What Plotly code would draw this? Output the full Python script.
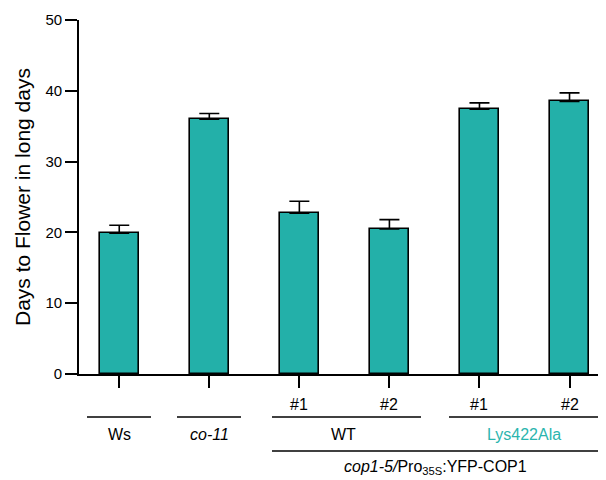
import plotly.graph_objects as go

# Data
categories = ["Ws", "co-11", "WT #1", "WT #2", "Lys422Ala #1", "Lys422Ala #2"]
days = [19.9, 36.0, 22.7, 20.5, 37.4, 38.5]
err = [1.1, 0.8, 1.7, 1.3, 0.9, 1.2]
y_ticks = [0, 10, 20, 30, 40, 50]

BAR = "#23B0A9"
TEAL_TXT = "#2BB5AE"
FONT = "Liberation Sans, Arial, sans-serif"

# page body has an 8px default margin; figure is sized to fill the rest
OFF = 8
W, H = 606 - OFF, 480 - OFF
PLOT_L, PLOT_R, PLOT_T, PLOT_B = 79, 605, 20, 374   # reference page pixels
ML, MT = PLOT_L - OFF, PLOT_T - OFF
MR = 606 - PLOT_R
MB = H - (PLOT_B - OFF)
PW, PH = PLOT_R - PLOT_L, PLOT_B - PLOT_T
XMIN, XMAX = -0.447, 5.394

xpos = list(range(len(categories)))

fig = go.Figure()
fig.add_trace(go.Bar(
    x=xpos, y=days, width=0.43,
    marker=dict(color=BAR, line=dict(color="black", width=1.6)),
    error_y=dict(type="data", array=err, arrayminus=[0] * len(err), symmetric=False,
                 color="black", thickness=1.6, width=10),
    showlegend=False,
))

def py(ypx):
    return (PLOT_B - ypx) / PH

def pxp(xpx):
    return (xpx - PLOT_L) / PW

def px2cat(xpx):
    return XMIN + pxp(xpx) * (XMAX - XMIN)

shapes = []
def hline(x0px, x1px, ypx):
    shapes.append(dict(type="line", xref="paper", yref="paper",
                       x0=pxp(x0px), x1=pxp(x1px), y0=py(ypx), y1=py(ypx),
                       line=dict(color="black", width=1.6)))

# group underline brackets
hline(87, 151, 417)
hline(177, 241, 417)
hline(272, 421, 417)
hline(449, 606, 417)
hline(272, 606, 451)

ann = []
def label(xcat, ypx, text, color="black", size=16):
    ann.append(dict(x=xcat, y=py(ypx), xref="x", yref="paper", text=text,
                    showarrow=False, xanchor="center", yanchor="middle",
                    font=dict(family=FONT, size=size, color=color)))

label(0, 434, "Ws")
label(1, 434, "<i>co-11</i>")
label(2, 405, "#1")
label(3, 405, "#2")
label(4, 405, "#1")
label(5, 405, "#2")
label(px2cat(343), 434, "WT")
label(px2cat(524), 434, "Lys422Ala", color=TEAL_TXT)
label(px2cat(435), 468, "<i>cop1-5/</i>Pro<sub>35S</sub>:YFP-COP1", size=16)

ann.append(dict(x=pxp(22), y=py(197), xref="paper", yref="paper",
                text="Days to Flower in long days", textangle=-90, showarrow=False,
                xanchor="center", yanchor="middle",
                font=dict(family=FONT, size=21, color="black")))

fig.update_layout(
    width=W, height=H,
    margin=dict(l=ML, r=MR, t=MT, b=MB, autoexpand=False),
    paper_bgcolor="white", plot_bgcolor="white",
    font=dict(family=FONT, size=15, color="black"),
    shapes=shapes, annotations=ann,
    xaxis=dict(range=[XMIN, XMAX], tickvals=xpos, showticklabels=False,
               ticks="outside", ticklen=12, tickwidth=1.6, tickcolor="black",
               showline=True, linecolor="black", linewidth=1.6,
               showgrid=False, zeroline=False, fixedrange=True),
    yaxis=dict(range=[0, 50], tickvals=y_ticks, ticks="outside", ticklen=12,
               tickwidth=1.6, tickcolor="black", showline=True, linecolor="black",
               linewidth=1.6, showgrid=False, zeroline=False,
               tickfont=dict(family=FONT, size=15, color="black"), fixedrange=True),
    bargap=0,
)

fig.write_html("out.html")
